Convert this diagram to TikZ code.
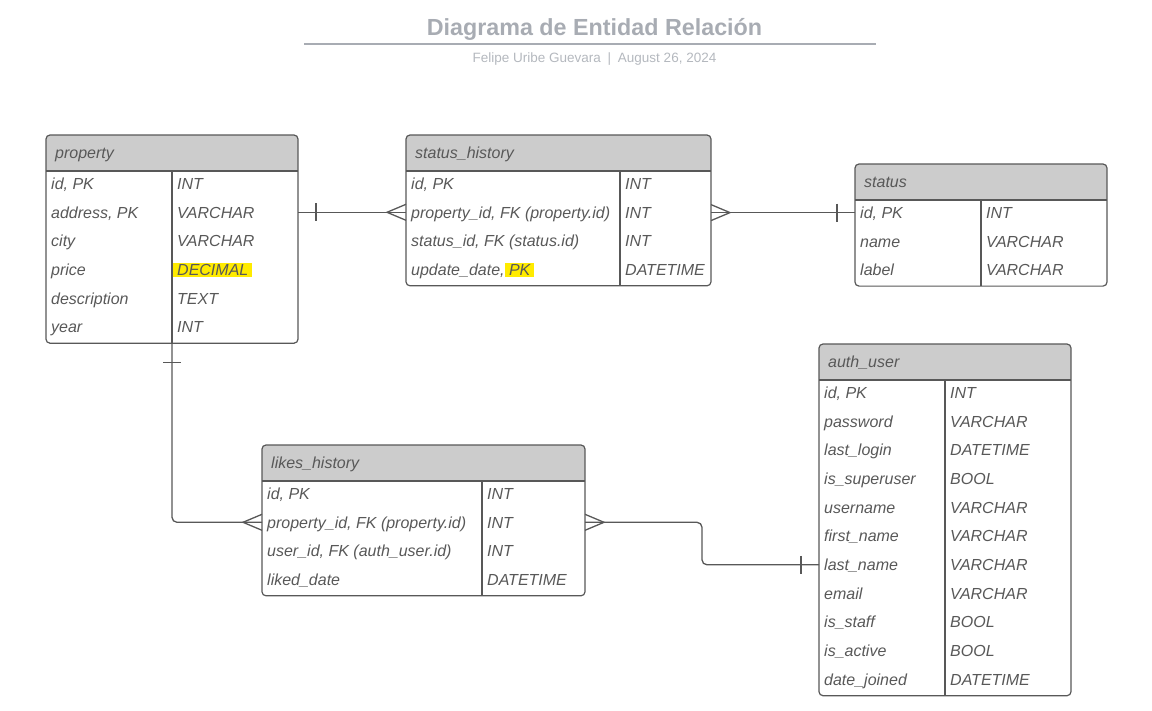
\documentclass[tikz,border=0pt]{standalone}
\usepackage{fontspec}
\setmainfont{Liberation Sans}
\usetikzlibrary{calc}

\definecolor{inkgray}{RGB}{88,88,88}
\definecolor{headgray}{RGB}{204,204,204}
\definecolor{titlegray}{RGB}{168,172,179}
\definecolor{subgray}{RGB}{180,184,190}
\definecolor{markyellow}{RGB}{255,235,0}

% yellow marker behind a word
\newcommand{\marked}[1]{\setbox0\hbox{#1}\hbox{\kern-4pt\rlap{\color{markyellow}\rule[-2pt]{\dimexpr\wd0+8pt\relax}{14pt}}\kern4pt\box0}}

% #1 name, #2 left, #3 top, #4 width, #5 split, #6 title, #7 rows
\newcommand{\ertable}[7]{%
  \foreach \fld/\typ [count=\n] in {#7} {\xdef\rowcount{\n}}%
  \pgfmathsetmacro{\tblheight}{36+\rowcount*28.7}%
  \node[entity, minimum width=#4pt, minimum height=\tblheight pt, anchor=north west] (#1) at (#2,#3) {};
  \begin{scope}
    \clip[rounded corners=4pt] (#1.north west) rectangle (#1.south east);
    \fill[headgray] (#1.north west) rectangle ([yshift=-36pt]#1.north east);
  \end{scope}
  \coordinate (#1-div) at ({#2+#5},#3);
  \draw[edge] ([yshift=-36pt]#1.north west) -- ([yshift=-36pt]#1.north east);
  \draw[edge] ([yshift=-36pt]#1-div) -- (#1-div |- #1.south);
  \draw[edge, rounded corners=4pt] (#1.north west) rectangle (#1.south east);
  \node[cell, anchor=base west] (#1-name) at ({#2+9},{#3+23.5}) {#6};
  \foreach \fld/\typ [count=\n] in {#7} {
    \node[cell, anchor=base west] (#1-f\n) at ({#2+5},{#3+36+(\n-0.5)*28.7+4}) {\fld};
    \node[cell, anchor=base west] (#1-t\n) at ({#2+#5+5},{#3+36+(\n-0.5)*28.7+4}) {\typ};
  }%
}

\begin{document}
\begin{tikzpicture}[
    x=1pt, y=-1pt,
    entity/.style={rectangle, inner sep=0pt, outer sep=0pt},
    edge/.style={draw=inkgray, line width=1.2pt},
    cell/.style={inner sep=0pt, text=inkgray, font=\fontsize{16}{19}\selectfont\itshape},
    link/.style={draw=inkgray, line width=1.3pt},
    crowfoot/.pic={\draw[link] (0,-8) -- (-19,0) -- (0,8);},
    onebar/.pic={\draw[link] (0,-9) -- (0,9);}
  ]

  \useasboundingbox (0,0) rectangle (1152,710);

  \node[text=titlegray, font=\fontsize{23.3}{27}\selectfont\bfseries] (title) at (594.5,29) {Diagrama de Entidad Relación};
  \node[text=subgray, font=\fontsize{13.5}{16}\selectfont] (subtitle) at (594.5,59) {Felipe Uribe Guevara\enspace|\enspace August 26, 2024};
  \draw[draw=titlegray, line width=1.6pt] (304,44) -- (876,44);

  \ertable{prop}{46}{135}{252}{126}{property}{{id, PK}/INT, {address, PK}/VARCHAR, city/VARCHAR, price/\marked{DECIMAL}, description/TEXT, year/INT}
  \ertable{sh}{406}{135}{305}{214}{status\_history}{{id, PK}/INT, {property\_id, FK (property.id)}/INT, {status\_id, FK (status.id)}/INT, {update\_date, \marked{PK}}/DATETIME}
  \ertable{st}{855}{164}{252}{126}{status}{{id, PK}/INT, name/VARCHAR, label/VARCHAR}
  \ertable{au}{819}{344}{252}{126}{auth\_user}{{id, PK}/INT, password/VARCHAR, last\_login/DATETIME, is\_superuser/BOOL, username/VARCHAR, first\_name/VARCHAR, last\_name/VARCHAR, email/VARCHAR, is\_staff/BOOL, is\_active/BOOL, date\_joined/DATETIME}
  \ertable{lh}{262}{445}{323}{220}{likes\_history}{{id, PK}/INT, {property\_id, FK (property.id)}/INT, {user\_id, FK (auth\_user.id)}/INT, liked\_date/DATETIME}

  % property -- status_history
  \coordinate (ps) at ([yshift=5.75pt]prop.east |- prop-f2.base);
  \draw[link] (ps) -- (sh.west |- ps);
  \pic at ([xshift=18pt]ps) {onebar};
  \pic at (sh.west |- ps) {crowfoot};

  % status_history -- status
  \coordinate (ss) at ([yshift=5.75pt]st.west |- st-f1.base);
  \draw[link] (sh.east |- ss) -- (ss);
  \pic[rotate=180] at (sh.east |- ss) {crowfoot};
  \pic at ([xshift=-18pt]ss) {onebar};

  % property -- likes_history
  \coordinate (pl) at ([yshift=5.75pt]lh.west |- lh-f2.base);
  \draw[link, rounded corners=5pt] (prop-div |- prop.south) |- (pl);
  \pic[rotate=90] at ([yshift=-19pt]prop-div |- prop.south) {onebar};
  \pic at (pl) {crowfoot};

  % likes_history -- auth_user
  \coordinate (la) at ([yshift=5.75pt]au.west |- au-f7.base);
  \coordinate (bend) at ($(lh.east |- pl)!.5!(la)$);
  \draw[link, rounded corners=5pt] (lh.east |- pl) -| (bend) |- (la);
  \pic[rotate=180] at (lh.east |- pl) {crowfoot};
  \pic at ([xshift=-18pt]la) {onebar};

\end{tikzpicture}
\end{document}
